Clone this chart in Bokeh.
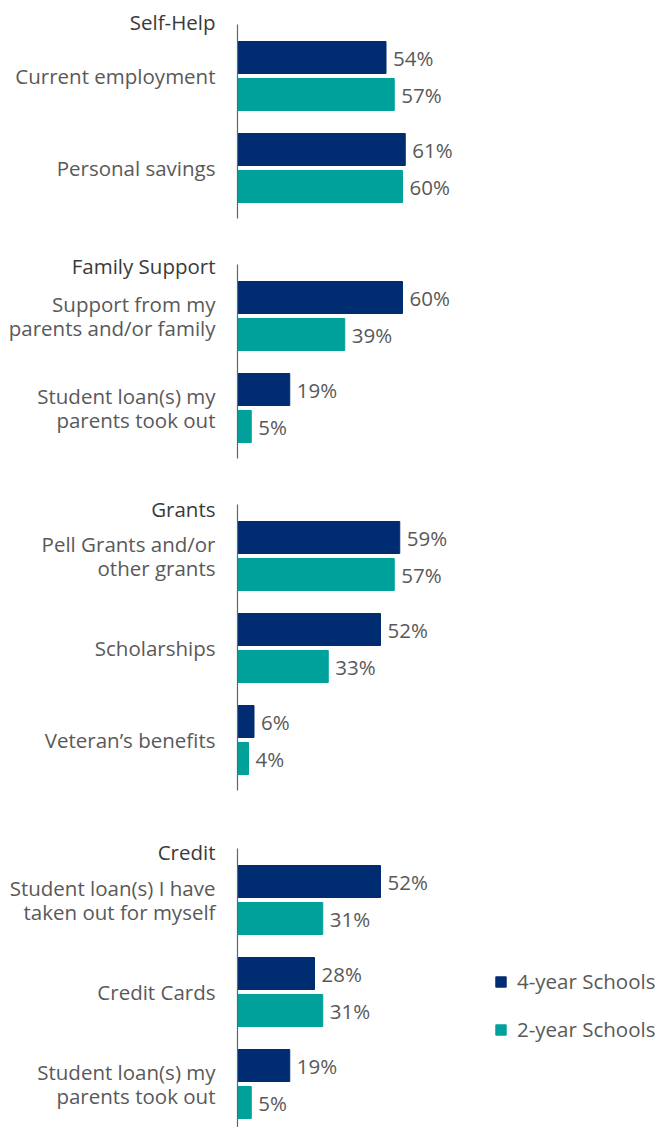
from bokeh.plotting import figure
from bokeh.models import ColumnDataSource, Range1d, Legend, LegendItem
from bokeh.core.properties import value
from bokeh.embed import file_html
from bokeh.resources import INLINE

# ---------------- data ----------------
groups = ["Self-Help", "Family Support", "Grants", "Credit"]
categories = [
    ["Current employment", "Personal savings"],
    ["Support from my\nparents and/or family", "Student loan(s) my\nparents took out"],
    ["Pell Grants and/or\nother grants", "Scholarships", "Veteran\u2019s benefits"],
    ["Student loan(s) I have\ntaken out for myself", "Credit Cards", "Student loan(s) my\nparents took out"],
]
four_year = [[54, 61], [60, 19], [59, 52, 6], [52, 28, 19]]
two_year = [[57, 60], [39, 5], [57, 33, 4], [31, 31, 5]]
series_names = ["4-year Schools", "2-year Schools"]

# ---------------- layout (pixels) ----------------
W, H = 662, 1127
AXIS_PX = 237
PX_PER_PCT = 2.75
GROUP_TOP = [41, 281, 521, 865]
HEADER_Y = [21, 265, 508, 851]
PITCH = 92
BAR_H = 32
GAP = 5

NAVY = "#002D72"
TEXT_FS = "20.5px"
TEAL = "#00A19A"
TEXT = "#595959"
HEAD = "#3a3a3a"
FONT = "Open Sans"

y4, y2, yc, v4, v2, labs = [], [], [], [], [], []
seg_top, seg_bot = [], []
for g, cats in enumerate(categories):
    top = GROUP_TOP[g]
    for i, c in enumerate(cats):
        base = top + i * PITCH
        y4.append(base + BAR_H / 2)
        y2.append(base + BAR_H + GAP + BAR_H / 2)
        yc.append(base + BAR_H + GAP / 2)
        v4.append(four_year[g][i])
        v2.append(two_year[g][i])
        labs.append(c)
    end = top + (len(cats) - 1) * PITCH + 2 * BAR_H + GAP
    seg_top.append(top - 17)
    seg_bot.append(end + 16)

src4 = ColumnDataSource(dict(y=y4, v=v4, t=[f"{x}%" for x in v4]))
src2 = ColumnDataSource(dict(y=y2, v=v2, t=[f"{x}%" for x in v2]))
srcl = ColumnDataSource(dict(y=yc, t=labs, x=[-22 / PX_PER_PCT] * len(labs)))
srch = ColumnDataSource(dict(y=HEADER_Y, t=groups, x=[-22 / PX_PER_PCT] * len(groups)))
srcs = ColumnDataSource(dict(y0=seg_top, y1=seg_bot, x=[0] * len(groups)))

p = figure(width=W, height=H,
           x_range=Range1d(-AXIS_PX / PX_PER_PCT, (W - AXIS_PX) / PX_PER_PCT),
           y_range=Range1d(H, 0),
           min_border=0, toolbar_location=None, output_backend="svg")
p.axis.visible = False
p.grid.visible = False
p.outline_line_color = None
p.background_fill_color = "white"

r4 = p.hbar(y="y", left=0, right="v", height=BAR_H, color=NAVY, source=src4)
r2 = p.hbar(y="y", left=0, right="v", height=BAR_H, color=TEAL, source=src2)

p.segment(x0="x", x1="x", y0="y0", y1="y1", source=srcs, line_color="#5d6770", line_width=1.2)

for s in (src4, src2):
    p.text(x="v", y="y", text="t", source=s, x_offset=7, text_align="left",
           text_baseline="middle", text_font=value(FONT), text_font_size=TEXT_FS,
           text_color=TEXT)

p.text(x="x", y="y", text="t", source=srcl, text_align="right", text_baseline="middle",
       text_font=value(FONT), text_font_size=TEXT_FS, text_color=TEXT, text_line_height=0.88)
p.text(x="x", y="y", text="t", source=srch, text_align="right", text_baseline="middle",
       text_font=value(FONT), text_font_size=TEXT_FS, text_color=HEAD)

legend = Legend(items=[LegendItem(label=series_names[0], renderers=[r4]),
                       LegendItem(label=series_names[1], renderers=[r2])],
                location=(494, 84), orientation="vertical",
                glyph_width=13, glyph_height=13, label_standoff=10,
                label_height=28, spacing=20, padding=0, margin=0,
                label_text_font=FONT, label_text_font_size=TEXT_FS,
                label_text_color=TEXT, border_line_color=None,
                background_fill_alpha=0)
p.add_layout(legend)

open("out.html", "w").write(file_html(p, INLINE))
